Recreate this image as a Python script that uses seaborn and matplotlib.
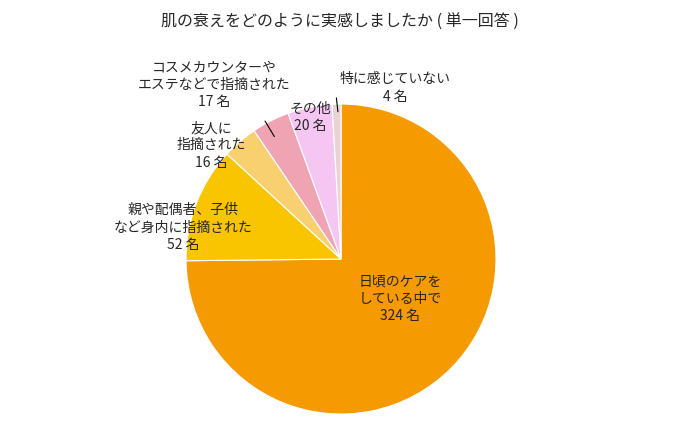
import matplotlib
matplotlib.use("Agg")
import matplotlib.pyplot as plt
import seaborn as sns

sns.set_theme(style="white", font="Noto Sans CJK JP")

categories = ["日頃のケアをしている中で", "親や配偶者、子供など身内に指摘された", "友人に指摘された",
              "コスメカウンターやエステなどで指摘された", "その他", "特に感じていない"]
values = [324, 52, 16, 17, 20, 4]
colors = ["#F59A00", "#F8C500", "#F9D070", "#F0A3B3", "#F6C6F2", "#EBD3D3"]

fig = plt.figure(figsize=(6.8, 4.27), dpi=100)
fig.text(0.5, 0.948, "肌の衰えをどのように実感しましたか ( 単一回答 )", ha="center", va="center", fontsize=11.5)
ax = fig.add_axes([0.2735, 0.028, 0.456, 0.726])
ax.pie(values, colors=colors, startangle=90, counterclock=False,
       wedgeprops=dict(linewidth=0.8, edgecolor="white"))
ax.set_xlim(-1, 1); ax.set_ylim(-1, 1)

fs = 10
ax.text(0.38, -0.25, f"日頃のケアを\nしている中で\n{values[0]} 名", ha="center", va="center", fontsize=fs, linespacing=1.3)
ax.text(-1.02, 0.21, f"親や配偶者、子供\nなど身内に指摘された\n{values[1]} 名", ha="center", va="center", fontsize=fs, linespacing=1.3)
ax.text(-0.835, 0.74, f"友人に\n指摘された\n{values[2]} 名", ha="center", va="center", fontsize=fs, linespacing=1.3)
ax.text(-0.82, 1.13, f"コスメカウンターや\nエステなどで指摘された\n{values[3]} 名", ha="center", va="center", fontsize=fs, linespacing=1.3, clip_on=False)
ax.plot([-0.49, -0.43], [0.89, 0.79], color="black", lw=0.8)
ax.text(-0.2, 0.92, f"その他\n{values[4]} 名", ha="center", va="center", fontsize=fs, linespacing=1.3)
ax.text(0.35, 1.11, f"特に感じていない\n{values[5]} 名", ha="center", va="center", fontsize=fs, linespacing=1.3, clip_on=False)
ax.plot([-0.03, -0.02], [1.04, 0.95], color="black", lw=0.8, clip_on=False)

fig.savefig("out.png", dpi=100)
